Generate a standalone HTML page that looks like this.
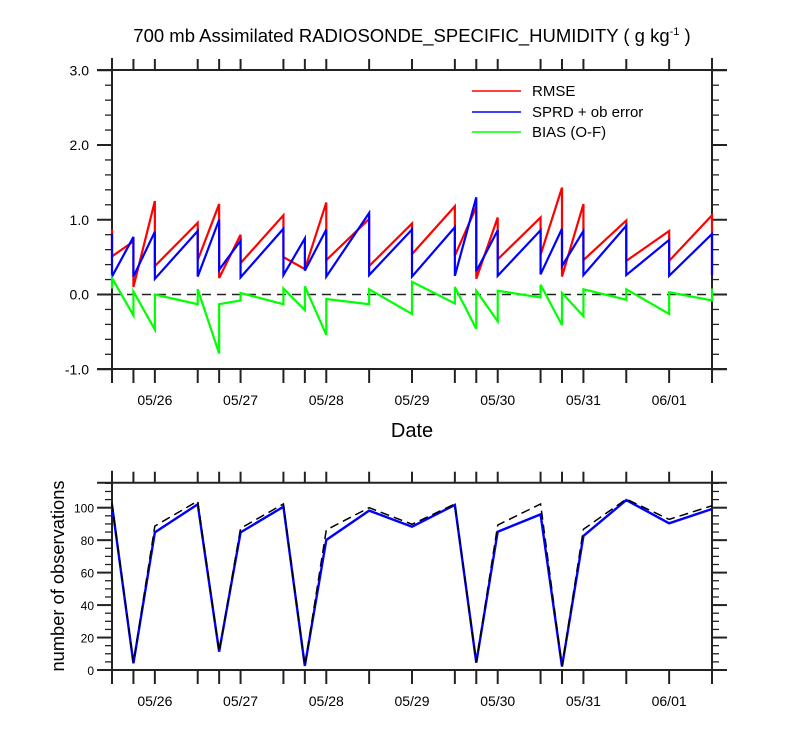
<!DOCTYPE html>
<html><head><meta charset="utf-8"><style>
body{margin:0;background:#fff;}
svg{display:block;font-family:"Liberation Sans",sans-serif;}
</style></head><body>
<svg id="chart" width="800" height="750" viewBox="0 0 800 750">
<text x="412" y="42" text-anchor="middle" font-size="18.5">700 mb Assimilated RADIOSONDE_SPECIFIC_HUMIDITY ( g kg<tspan dy="-7" font-size="11">-1</tspan><tspan dy="7"> )</tspan></text>
<g id="topPanel"></g>
<g id="botPanel"></g>
<g>
<line x1="472" y1="91" x2="521" y2="91" stroke="#f00" stroke-width="1.5"/>
<text x="532" y="96" font-size="15">RMSE</text>
<line x1="472" y1="112" x2="521" y2="112" stroke="#00f" stroke-width="1.5"/>
<text x="532" y="117" font-size="15">SPRD + ob error</text>
<line x1="472" y1="132" x2="521" y2="132" stroke="#0f0" stroke-width="1.5"/>
<text x="532" y="137" font-size="15">BIAS (O-F)</text>
</g>
<text x="412" y="437" text-anchor="middle" font-size="20">Date</text>
<text transform="translate(64,576) rotate(-90)" text-anchor="middle" font-size="18.3">number of observations</text>
</svg>
<script>
// hours since 05/25 12Z
const hours=[0,6,12,24,30,36,48,54,60,72,84,96,102,108,120,126,132,144,156,168];
const rmseIn=[0.87,0.71,1.25,0.96,1.21,0.80,1.06,0.34,1.23,1.01,0.95,1.18,1.17,1.03,1.03,1.43,1.21,0.99,0.85,1.06];
const rmseOut=[0.51,0.10,0.38,0.46,0.22,0.42,0.50,0.34,0.46,0.38,0.54,0.52,0.21,0.47,0.53,0.24,0.46,0.45,0.45,0.26];
const sprdIn=[0.82,0.77,0.84,0.85,1.00,0.72,0.88,0.75,0.87,1.09,0.87,0.90,1.30,0.86,0.86,0.88,0.85,0.92,0.73,0.81];
const sprdOut=[0.24,0.24,0.21,0.24,0.33,0.23,0.26,0.32,0.24,0.26,0.24,0.25,0.31,0.25,0.27,0.38,0.26,0.26,0.25,0.26];
const biasIn=[0.08,-0.28,-0.47,-0.13,-0.79,-0.08,-0.13,-0.21,-0.54,-0.13,-0.26,-0.12,-0.46,-0.36,-0.04,-0.41,-0.29,-0.07,-0.26,-0.08];
const biasOut=[0.22,0.04,0.00,0.07,-0.13,0.02,0.08,0.11,-0.06,0.07,0.17,0.10,0.05,0.05,0.13,0.02,0.07,0.07,0.03,0.08];
const obsUsed=[101.7,4.1,84.8,102.1,11.3,84.8,100.6,2.5,80.1,98.2,88.3,101.7,4.5,85.2,95.9,2.1,82.6,104.7,90.4,99.2];
const obsTotal=[103,4.5,88.7,104.1,11.5,87.3,102.3,2.8,86.3,100,89.8,102.3,4.8,89.3,102.3,2.4,86.7,105.3,92.8,101.2];
const dayLabels=["05/26","05/27","05/28","05/29","05/30","05/31","06/01"];
const topTicks=["3.0","2.0","1.0","0.0","-1.0"];
const botTicks=["0","20","40","60","80","100"];

const NS="http://www.w3.org/2000/svg";
const X0=112,X1=712;
const xs=h=>X0+(X1-X0)*h/168;
const yT=v=>294.5-74.75*v;
const yB=v=>670-1.623*v;
function el(tag,attrs,parent){const e=document.createElementNS(NS,tag);for(const k in attrs)e.setAttribute(k,attrs[k]);parent.appendChild(e);return e;}
const topG=document.getElementById('topPanel'),botG=document.getElementById('botPanel');

function frame(g,yTop,yBot,name){
  let l;
  l=el('line',{x1:97,y1:yTop,x2:727,y2:yTop,stroke:'#222','stroke-width':2},g);
  
  
  l=el('line',{x1:97,y1:yBot,x2:727,y2:yBot,stroke:'#222','stroke-width':2},g);
  
  
  l=el('line',{x1:X0,y1:yTop-12,x2:X0,y2:yBot+14,stroke:'#222','stroke-width':2},g);
  
  
  l=el('line',{x1:X1,y1:yTop-12,x2:X1,y2:yBot+14,stroke:'#222','stroke-width':2},g);
  
  
  hours.forEach(h=>{
    const x=xs(h);
    let t=el('line',{x1:x,y1:yTop-11,x2:x,y2:yTop,stroke:'#222','stroke-width':2},g);
    
    
    t=el('line',{x1:x,y1:yBot,x2:x,y2:yBot+14,stroke:'#222','stroke-width':2},g);
    
    
  });
  dayLabels.forEach((d,i)=>{
    const t=el('text',{x:xs(12+24*i),y:yBot+36,'text-anchor':'middle','font-size':14},g);
    t.textContent=d;
    
    
  });
}
function yticks(g,vmin,vmax,minor,major,yf,labels,fmt,fs){
  for(let v=vmin;v<=vmax+1e-6;v+=minor){
    const y=yf(v);const isMaj=Math.abs(v/major-Math.round(v/major))<1e-6;
    const len=isMaj?15:7;
    let t=el('line',{x1:X0-len,y1:y,x2:X0,y2:y,stroke:'#222','stroke-width':isMaj?2:1.3},g);
    
    
    t=el('line',{x1:X1,y1:y,x2:X1+len,y2:y,stroke:'#222','stroke-width':isMaj?2:1.3},g);
    
    
  }
  labels.forEach(s=>{
    const v=parseFloat(s);
    const t=el('text',{x:fmt,y:yf(v)+5,'text-anchor':'end','font-size':fs},g);
    t.textContent=s;
    
    
  });
}
frame(topG,70,369,'top');
yticks(topG,-1,3,0.2,1,yT,topTicks,89,14);
frame(botG,482.7,670,'bottom');
yticks(botG,0,115,5,20,yB,botTicks,94,12);

let zl=el('line',{x1:X0,y1:yT(0),x2:X1,y2:yT(0),stroke:'#222','stroke-width':1.6,'stroke-dasharray':'9,6'},topG);



function pairLine(g,inv,outv,yf,color,name){
  const pts=[];
  hours.forEach((h,i)=>{pts.push(xs(h)+','+yf(inv[i]));pts.push(xs(h)+','+yf(outv[i]));});
  const p=el('polyline',{points:pts.join(' '),fill:'none',stroke:color,'stroke-width':2.2,'stroke-linejoin':'miter'},g);
  
  
}
pairLine(topG,rmseIn,rmseOut,yT,'#f00','rmse-line');
pairLine(topG,sprdIn,sprdOut,yT,'#00f','sprd-line');
pairLine(topG,biasIn,biasOut,yT,'#0f0','bias-line');

let p=el('polyline',{points:hours.map((h,i)=>xs(h)+','+yB(obsUsed[i])).join(' '),fill:'none',stroke:'#00f','stroke-width':2.4},botG);


p=el('polyline',{points:hours.map((h,i)=>xs(h)+','+yB(obsTotal[i])).join(' '),fill:'none',stroke:'#000','stroke-width':1.5,'stroke-dasharray':'9,5'},botG);


</script>
</body></html>
